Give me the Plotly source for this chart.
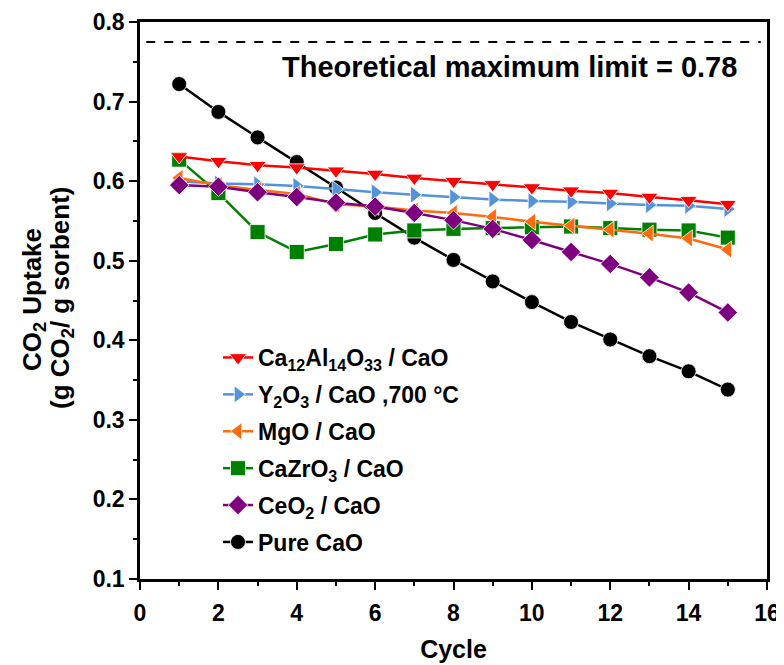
import plotly.graph_objects as go

cycles = list(range(1, 16))

ca12al14o33 = [0.631, 0.625, 0.620, 0.617, 0.613, 0.609, 0.604, 0.600, 0.596, 0.592, 0.588, 0.585, 0.580, 0.576, 0.571]
y2o3 = [0.600, 0.597, 0.596, 0.594, 0.590, 0.586, 0.583, 0.580, 0.577, 0.575, 0.574, 0.572, 0.570, 0.569, 0.565]
mgo = [0.604, 0.595, 0.589, 0.584, 0.571, 0.568, 0.563, 0.560, 0.555, 0.549, 0.544, 0.539, 0.534, 0.528, 0.514]
cazro3 = [0.627, 0.585, 0.536, 0.511, 0.521, 0.533, 0.538, 0.540, 0.541, 0.542, 0.543, 0.541, 0.539, 0.538, 0.529]
ceo2 = [0.595, 0.593, 0.586, 0.580, 0.573, 0.568, 0.560, 0.551, 0.540, 0.526, 0.511, 0.496, 0.479, 0.460, 0.435]
pure_cao = [0.722, 0.687, 0.655, 0.624, 0.592, 0.560, 0.529, 0.501, 0.474, 0.448, 0.423, 0.401, 0.380, 0.361, 0.338]

theoretical_limit = 0.775
x_ticks = [0, 2, 4, 6, 8, 10, 12, 14, 16]
y_ticks = [0.1, 0.2, 0.3, 0.4, 0.5, 0.6, 0.7, 0.8]

series = [
    # (name, values, color, symbol, legendrank)
    ("Pure CaO", pure_cao, "#000000", "circle", 6),
    ("CaZrO<sub>3</sub> / CaO", cazro3, "#008000", "square", 4),
    ("Y<sub>2</sub>O<sub>3</sub> / CaO ,700 °C", y2o3, "#5592DC", "triangle-right", 2),
    ("MgO / CaO", mgo, "#FF6A0E", "triangle-left", 3),
    ("CeO<sub>2</sub> / CaO", ceo2, "#7F007F", "diamond", 5),
    ("Ca<sub>12</sub>Al<sub>14</sub>O<sub>33</sub> / CaO", ca12al14o33, "#FF0000", "triangle-down", 1),
]

FONT = "Arial, Liberation Sans, sans-serif"

# the page adds an 8 px body margin, so the figure is slightly smaller
W, H = 776, 657
ML, MR, MT, MB = 132, 17, 14, 86
plot_w = W - ML - MR
plot_h = H - MT - MB


def px_to_paper(px, py):
    # px, py: positions in the browser window
    return (px - 8 - ML) / plot_w, (H - MB - (py - 8)) / plot_h


fig = go.Figure()
for name, vals, color, sym, rank in series:
    fig.add_trace(go.Scatter(
        x=cycles, y=vals, name=name, mode="lines+markers",
        line=dict(color=color, width=2.5),
        marker=dict(symbol=sym, size=15, color=color, line=dict(color="white", width=0.8)),
        legendrank=rank, legendgroup=name,
    ))

fig.add_shape(type="line", xref="paper", x0=0.01, x1=0.99, yref="y",
              y0=theoretical_limit, y1=theoretical_limit,
              line=dict(color="black", width=2, dash="dash"))

fig.add_annotation(x=9.44, y=0.744, xref="x", yref="y",
                   text="Theoretical maximum limit = 0.78", showarrow=False,
                   font=dict(family=FONT, size=29, color="black", weight="bold"))

# y-axis title, two lines
ax1, ay1 = px_to_paper(33, 300)
ax2, ay2 = px_to_paper(61, 298)
fig.add_annotation(x=ax1, y=ay1, xref="paper", yref="paper",
                   text="CO<sub>2</sub> Uptake", showarrow=False, textangle=-90,
                   xanchor="center", yanchor="middle",
                   font=dict(family=FONT, size=26, color="black", weight="bold"))
fig.add_annotation(x=ax2, y=ay2, xref="paper", yref="paper",
                   text="(g CO<sub>2</sub>/ g sorbent)", showarrow=False, textangle=-90,
                   xanchor="center", yanchor="middle",
                   font=dict(family=FONT, size=26, color="black", weight="bold"))

lx, ly = px_to_paper(218, 336)

fig.update_layout(
    width=W, height=H,
    margin=dict(l=ML, r=MR, t=MT, b=MB),
    paper_bgcolor="white", plot_bgcolor="white",
    font=dict(family=FONT, color="black", weight="bold"),
    showlegend=True,
    legend=dict(x=lx, y=ly, xanchor="left", yanchor="top",
                bgcolor="rgba(0,0,0,0)", borderwidth=0,
                font=dict(family=FONT, size=23, color="black", weight="bold"),
                tracegroupgap=4, itemwidth=30),
)

fig.update_xaxes(
    range=[0, 16], tickvals=x_ticks, ticktext=[str(v) for v in x_ticks],
    showline=True, linecolor="black", linewidth=2.5, mirror=True,
    ticks="outside", ticklen=8, tickwidth=2, tickcolor="black",
    minor=dict(dtick=1, ticks="outside", ticklen=4, tickwidth=2, tickcolor="black", showgrid=False),
    showgrid=False, zeroline=False, automargin=False,
    tickfont=dict(family=FONT, size=23, color="black", weight="bold"),
    ticklabelstandoff=4,
    title=dict(text="Cycle", font=dict(family=FONT, size=25, color="black", weight="bold"), standoff=16),
)
fig.update_yaxes(
    range=[0.1, 0.8], tickvals=y_ticks, ticktext=[f"{v:.1f}" for v in y_ticks],
    showline=True, linecolor="black", linewidth=2.5, mirror=True,
    ticks="outside", ticklen=8, tickwidth=2, tickcolor="black",
    minor=dict(dtick=0.05, tick0=0.1, ticks="outside", ticklen=4, tickwidth=2, tickcolor="black", showgrid=False),
    showgrid=False, zeroline=False, automargin=False,
    tickfont=dict(family=FONT, size=23, color="black", weight="bold"),
)

fig.write_html("out.html")
